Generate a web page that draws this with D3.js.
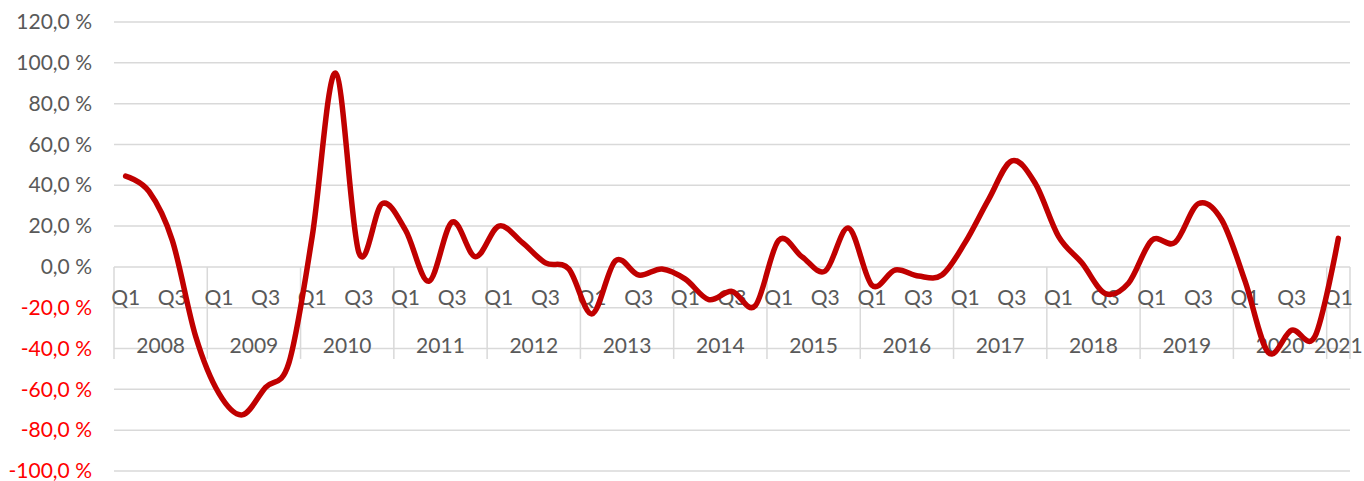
<!DOCTYPE html>
<html>
<head>
<meta charset="utf-8">
<script src="https://cdn.jsdelivr.net/npm/d3@7"></script>
<style>
  html, body { margin: 0; padding: 0; background: #fff; }
  svg { display: block; font-family: Lato, "Open Sans", sans-serif; }
</style>
</head>
<body>
<svg id="chart" width="1364" height="481"></svg>
<script>
// Quarterly change, 2008 Q1 – 2021 Q1
const years = ["2008","2009","2010","2011","2012","2013","2014","2015","2016","2017","2018","2019","2020","2021"];
const quarters = ["Q1","Q2","Q3","Q4"];
const values = [
  44.5, 37, 13, -34,    // 2008
  -62, -72.5, -59, -47, // 2009
  15, 95, 7, 31,        // 2010
  18, -7, 22, 5,        // 2011
  20, 12, 2, -1,        // 2012
  -23, 3, -4, -1,       // 2013
  -6, -16, -12, -19,    // 2014
  13, 5, -2, 19,        // 2015
  -9, -1.5, -4.5, -4,   // 2016
  12, 33, 52, 41,       // 2017
  15, 2, -13, -8,       // 2018
  13, 12, 31, 23,       // 2019
  -7, -42, -31, -34,    // 2020
  14                    // 2021
];
const yTicks = [120, 100, 80, 60, 40, 20, 0, -20, -40, -60, -80, -100];

// Build category list (year, quarter) from the arrays above
const cats = values.map((v, i) => ({
  key: years[Math.floor(i / 4)] + "-" + quarters[i % 4],
  year: years[Math.floor(i / 4)],
  q: quarters[i % 4],
  value: v
}));

const svg = d3.select("#chart");
const plotLeft = 114, plotRight = 1350, plotTop = 22, plotBottom = 471;

const x = d3.scaleBand().domain(cats.map(d => d.key)).range([plotLeft, plotRight]).padding(0);
const y = d3.scaleLinear().domain([-100, 120]).range([plotBottom, plotTop]);

const grid = "#d9d9d9";
// Decimal comma, plain hyphen for negatives, spaced percent sign
const fmt = v => d3.format(".1f")(v).replace(".", ",").replace("\u2212", "-") + " %";

// Horizontal gridlines
svg.append("g")
  .selectAll("line")
  .data(yTicks)
  .join("line")
  .attr("x1", plotLeft).attr("x2", plotRight)
  .attr("y1", d => y(d)).attr("y2", d => y(d))
  .attr("stroke", grid).attr("stroke-width", 1.5);

// Value axis labels
svg.append("g")
  .selectAll("text")
  .data(yTicks)
  .join("text")
  .attr("x", 92)
  .attr("y", d => y(d))
  .attr("dy", "0.34em")
  .attr("text-anchor", "end")
  .attr("font-size", 21)
  .attr("fill", d => d < 0 ? "#ff0000" : "#595959")
  .text(fmt);

// Year group separators below the zero line
const yearStarts = years.map(yr => cats.find(c => c.year === yr).key);
const sepX = yearStarts.map(k => x(k)).concat([plotRight]);
svg.append("g")
  .selectAll("line")
  .data(sepX)
  .join("line")
  .attr("x1", d => d).attr("x2", d => d)
  .attr("y1", y(0)).attr("y2", y(0) + 92)
  .attr("stroke", grid).attr("stroke-width", 1.5);

// Quarter labels (Q1 and Q3 shown)
svg.append("g")
  .selectAll("text")
  .data(cats.filter(d => d.q === "Q1" || d.q === "Q3"))
  .join("text")
  .attr("x", d => x(d.key) + x.bandwidth() / 2)
  .attr("y", y(0) + 31)
  .attr("dy", "0.36em")
  .attr("text-anchor", "middle")
  .attr("font-size", 21)
  .attr("fill", "#595959")
  .text(d => d.q);

// Year labels centred on their group
svg.append("g")
  .selectAll("text")
  .data(years)
  .join("text")
  .attr("x", yr => {
    const ks = cats.filter(c => c.year === yr);
    return (x(ks[0].key) + x(ks[ks.length - 1].key) + x.bandwidth()) / 2;
  })
  .attr("y", y(0) + 79)
  .attr("dy", "0.36em")
  .attr("text-anchor", "middle")
  .attr("font-size", 21)
  .attr("fill", "#595959")
  .text(d => d);

// Smoothed series line
const line = d3.line()
  .x(d => x(d.key) + x.bandwidth() / 2)
  .y(d => y(d.value))
  .curve(d3.curveCardinal.tension(0));

svg.append("path")
  .datum(cats)
  .attr("d", line)
  .attr("fill", "none")
  .attr("stroke", "#c00000")
  .attr("stroke-width", 5.5)
  .attr("stroke-linejoin", "round")
  .attr("stroke-linecap", "round");
</script>
</body>
</html>
